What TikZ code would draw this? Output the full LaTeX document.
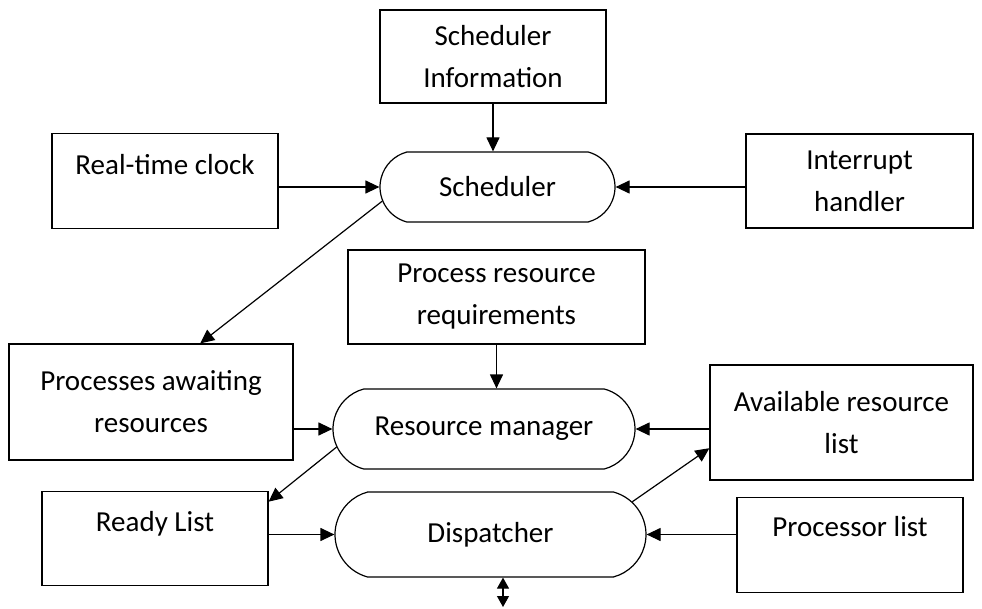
\documentclass[tikz,border=0pt]{standalone}
\usepackage{fontspec}
\setmainfont{Carlito}
\usetikzlibrary{arrows.meta,shapes.misc}

\begin{document}
\begin{tikzpicture}[x=1pt, y=-1pt,
        box/.style = {draw, line width=1.2pt, align=center, inner sep=0pt, font=\fontsize{29}{42}\selectfont},
        pill/.style = {draw, rounded rectangle, rounded rectangle arc length=150, line width=1.2pt, inner sep=0pt, font=\fontsize{29}{42}\selectfont},
        arr/.style = {line width=1.2pt, -{Triangle[length=14pt, width=13pt]}}]
                \useasboundingbox (0,0) rectangle (982,609);
                % boxes
                \node[box, minimum width=226pt, minimum height=93pt] (info) at (493,56.5) {Scheduler\\Information};
                \node[box, minimum width=226pt, anchor=north, text height=41pt, text depth=54pt] (clock) at (165,133) {Real-time clock};
                \node[box, minimum width=227pt, minimum height=94pt] (intr) at (859.5,181) {Interrupt\\handler};
                \node[box, minimum width=297pt, minimum height=94pt] (req) at (496.5,297) {Process resource\\requirements};
                \node[box, minimum width=284pt, minimum height=116pt] (wait) at (151,402) {Processes awaiting\\resources};
                \node[box, minimum width=263pt, minimum height=115pt] (avail) at (841.5,422.5) {Available resource\\list};
                \node[box, minimum width=226pt, anchor=north, text height=40pt, text depth=54pt] (ready) at (155,491) {Ready List};
                \node[box, minimum width=226pt, anchor=north, text height=39pt, text depth=56pt] (procs) at (850,497) {Processor list};
                % the three stages
                \node[pill, minimum width=235pt, minimum height=70pt] (sched) at (497.5,187) {Scheduler};
                \node[pill, minimum width=302pt, minimum height=80pt] (rmgr) at (484,429) {Resource manager};
                \node[pill, minimum width=311pt, minimum height=85pt] (disp) at (490.5,534.5) {Dispatcher};
                \coordinate (io) at (503,607);
                % arrows
                \draw[arr] (info.south) -- (info.south |- sched.north);
                \draw[arr] (clock.east |- sched.west) -- (sched.west);
                \draw[arr] (intr.west |- sched.east) -- (sched.east);
                \draw[arr] (sched.187) -- (wait.50);
                \draw[arr] (req.south) -- (req.south |- rmgr.north);
                \draw[arr] (wait.east |- rmgr.west) -- (rmgr.west);
                \draw[arr] (avail.west |- rmgr.east) -- (rmgr.east);
                \draw[arr] (rmgr.187) -- (ready.18);
                \draw[arr] (ready.east |- disp.west) -- (disp.west);
                \draw[arr] (procs.west |- disp.east) -- (disp.east);
                \draw[arr] (disp.13) -- (avail.191);
                \draw[line width=1.2pt, {Triangle[length=11pt, width=12pt]}-{Triangle[length=11pt, width=12pt]}] (io |- disp.south) -- (io);
\end{tikzpicture}
\end{document}
